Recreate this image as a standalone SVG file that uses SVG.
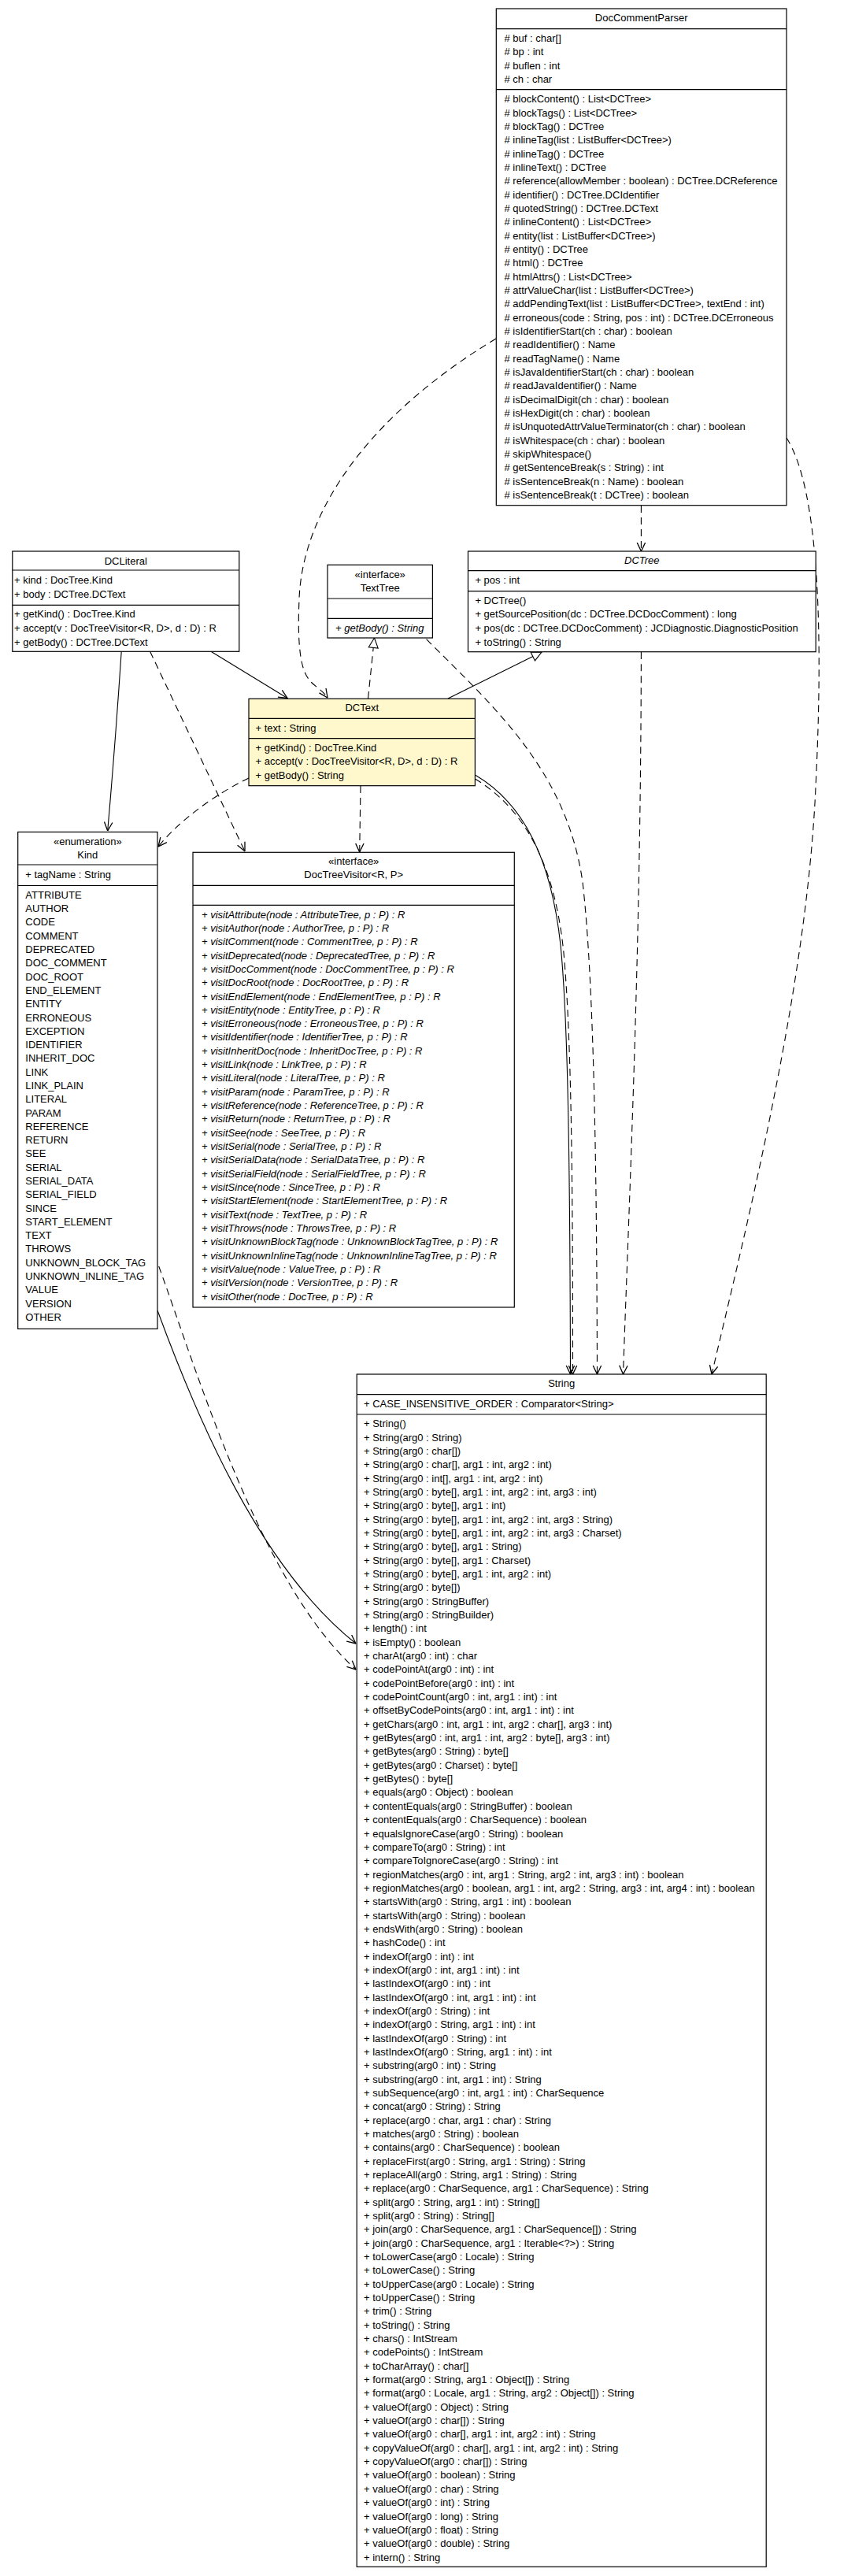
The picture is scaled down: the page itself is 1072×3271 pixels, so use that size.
<svg xmlns="http://www.w3.org/2000/svg" width="1072" height="3271" viewBox="0 0 1072 3271">
<style>
.box{fill:#fff;stroke:#000;stroke-width:1.2}
.hl{fill:#fff8cc}
.sep{stroke:#000;stroke-width:1.2}
.t{font-family:"Liberation Sans",Arial,Helvetica,sans-serif;font-size:13px;fill:#000}
.c{text-anchor:middle}
.it{font-style:italic}
.ln{fill:none;stroke:#000;stroke-width:1.1}
.d{stroke-dasharray:9,6}
</style>
<defs>
<marker id="open" viewBox="0 0 12 12" refX="11.5" refY="6" markerWidth="12" markerHeight="12" orient="auto" markerUnits="userSpaceOnUse"><path d="M0.5,0.8 L11.5,6 L0.5,11.2" fill="none" stroke="#000" stroke-width="1.3"/></marker>
<marker id="tri" viewBox="0 0 14 14" refX="13.5" refY="7" markerWidth="14" markerHeight="14" orient="auto" markerUnits="userSpaceOnUse"><path d="M1,1 L13.5,7 L1,13 Z" fill="#fff" stroke="#000" stroke-width="1.1"/></marker>
</defs>
<rect width="1072" height="3271" fill="#fff"/>

<g id="connectors">
<path class="ln d" d="M630 430 C480 520 385 640 380 760 S398 860 416 886" marker-end="url(#open)"/>
<path class="ln d" d="M814.4 642 L814.4 700" marker-end="url(#open)"/>
<path class="ln d" d="M999 556 C1040 620 1046 800 1036 1000 C1025 1250 950 1550 904 1745" marker-end="url(#open)"/>
<path class="ln d" d="M814.4 828 C814 1200 800 1500 791.5 1745" marker-end="url(#open)"/>
<path class="ln d" d="M541.6 811.7 C630 900 720 980 740 1120 C755 1250 758 1500 758.5 1745" marker-end="url(#open)"/>
<path class="ln" d="M603.4 984 C665 1020 700 1090 712 1200 C722 1300 724 1500 724.5 1745" marker-end="url(#open)"/>
<path class="ln d" d="M603.4 989 C668 1028 705 1100 716 1210 C726 1320 727.5 1500 727.5 1745" marker-end="url(#open)"/>
<path class="ln" d="M569 887 L688 828" marker-end="url(#tri)"/>
<path class="ln d" d="M467.5 887 L475.5 810" marker-end="url(#tri)"/>
<path class="ln" d="M268 827.3 L365 886.5" marker-end="url(#open)"/>
<path class="ln" d="M154.2 827.3 Q146 950 136.7 1055" marker-end="url(#open)"/>
<path class="ln d" d="M190.6 827.3 L311 1081" marker-end="url(#open)"/>
<path class="ln d" d="M316 988 C270 1010 225 1045 201 1075" marker-end="url(#open)"/>
<path class="ln d" d="M458 998 L456.7 1082" marker-end="url(#open)"/>
<path class="ln" d="M200 1664 C250 1800 330 1990 452 2087" marker-end="url(#open)"/>
<path class="ln d" d="M201.7 1608 C250 1740 330 2010 452 2120" marker-end="url(#open)"/>
</g>

<g id="DocCommentParser">
<rect class="box" x="630.3" y="11" width="368.7" height="630.7"/>
<line class="sep" x1="630.3" y1="36.7" x2="999" y2="36.7"/>
<line class="sep" x1="630.3" y1="113.7" x2="999" y2="113.7"/>
<text class="t c" x="814.7" y="27">DocCommentParser</text>
<text class="t" x="640.5" y="53.3"><tspan x="640.5" dy="0"># buf : char[]</tspan><tspan x="640.5" dy="17.1"># bp : int</tspan><tspan x="640.5" dy="17.1"># buflen : int</tspan><tspan x="640.5" dy="17.1"># ch : char</tspan></text>
<text class="t" x="640.5" y="130.3"><tspan x="640.5" dy="0"># blockContent() : List&lt;DCTree&gt;</tspan><tspan x="640.5" dy="17.33"># blockTags() : List&lt;DCTree&gt;</tspan><tspan x="640.5" dy="17.33"># blockTag() : DCTree</tspan><tspan x="640.5" dy="17.33"># inlineTag(list : ListBuffer&lt;DCTree&gt;)</tspan><tspan x="640.5" dy="17.33"># inlineTag() : DCTree</tspan><tspan x="640.5" dy="17.33"># inlineText() : DCTree</tspan><tspan x="640.5" dy="17.33"># reference(allowMember : boolean) : DCTree.DCReference</tspan><tspan x="640.5" dy="17.33"># identifier() : DCTree.DCIdentifier</tspan><tspan x="640.5" dy="17.33"># quotedString() : DCTree.DCText</tspan><tspan x="640.5" dy="17.33"># inlineContent() : List&lt;DCTree&gt;</tspan><tspan x="640.5" dy="17.33"># entity(list : ListBuffer&lt;DCTree&gt;)</tspan><tspan x="640.5" dy="17.33"># entity() : DCTree</tspan><tspan x="640.5" dy="17.33"># html() : DCTree</tspan><tspan x="640.5" dy="17.33"># htmlAttrs() : List&lt;DCTree&gt;</tspan><tspan x="640.5" dy="17.33"># attrValueChar(list : ListBuffer&lt;DCTree&gt;)</tspan><tspan x="640.5" dy="17.33"># addPendingText(list : ListBuffer&lt;DCTree&gt;, textEnd : int)</tspan><tspan x="640.5" dy="17.33"># erroneous(code : String, pos : int) : DCTree.DCErroneous</tspan><tspan x="640.5" dy="17.33"># isIdentifierStart(ch : char) : boolean</tspan><tspan x="640.5" dy="17.33"># readIdentifier() : Name</tspan><tspan x="640.5" dy="17.33"># readTagName() : Name</tspan><tspan x="640.5" dy="17.33"># isJavaIdentifierStart(ch : char) : boolean</tspan><tspan x="640.5" dy="17.33"># readJavaIdentifier() : Name</tspan><tspan x="640.5" dy="17.33"># isDecimalDigit(ch : char) : boolean</tspan><tspan x="640.5" dy="17.33"># isHexDigit(ch : char) : boolean</tspan><tspan x="640.5" dy="17.33"># isUnquotedAttrValueTerminator(ch : char) : boolean</tspan><tspan x="640.5" dy="17.33"># isWhitespace(ch : char) : boolean</tspan><tspan x="640.5" dy="17.33"># skipWhitespace()</tspan><tspan x="640.5" dy="17.33"># getSentenceBreak(s : String) : int</tspan><tspan x="640.5" dy="17.33"># isSentenceBreak(n : Name) : boolean</tspan><tspan x="640.5" dy="17.33"># isSentenceBreak(t : DCTree) : boolean</tspan></text>
</g>

<g id="DCLiteral">
<rect class="box" x="15.8" y="700" width="288" height="127.3"/>
<line class="sep" x1="15.8" y1="724" x2="303.8" y2="724"/>
<line class="sep" x1="15.8" y1="768.3" x2="303.8" y2="768.3"/>
<text class="t c" x="159.8" y="717">DCLiteral</text>
<text class="t" x="18" y="741.3"><tspan x="18" dy="0">+ kind : DocTree.Kind</tspan><tspan x="18" dy="18">+ body : DCTree.DCText</tspan></text>
<text class="t" x="18" y="784"><tspan x="18" dy="0">+ getKind() : DocTree.Kind</tspan><tspan x="18" dy="17.8">+ accept(v : DocTreeVisitor&lt;R, D&gt;, d : D) : R</tspan><tspan x="18" dy="17.8">+ getBody() : DCTree.DCText</tspan></text>
</g>

<g id="TextTree">
<rect class="box" x="416" y="717.3" width="133.4" height="92.7"/>
<line class="sep" x1="416" y1="760" x2="549.4" y2="760"/>
<line class="sep" x1="416" y1="785.3" x2="549.4" y2="785.3"/>
<text class="t c" x="482.7" y="733.6">«interface»</text>
<text class="t c" x="482.7" y="750.9">TextTree</text>
<text class="t it" x="426" y="801.9">+ getBody() : String</text>
</g>

<g id="DCTree">
<rect class="box" x="594.5" y="700" width="441.7" height="127.7"/>
<line class="sep" x1="594.5" y1="724.7" x2="1036.2" y2="724.7"/>
<line class="sep" x1="594.5" y1="750.7" x2="1036.2" y2="750.7"/>
<text class="t c it" x="815.3" y="716.3">DCTree</text>
<text class="t" x="603.4" y="741.3">+ pos : int</text>
<text class="t" x="603.4" y="766.9"><tspan x="603.4" dy="0">+ DCTree()</tspan><tspan x="603.4" dy="17.4">+ getSourcePosition(dc : DCTree.DCDocComment) : long</tspan><tspan x="603.4" dy="17.2">+ pos(dc : DCTree.DCDocComment) : JCDiagnostic.DiagnosticPosition</tspan><tspan x="603.4" dy="18">+ toString() : String</tspan></text>
</g>

<g id="DCText">
<rect class="box hl" x="316" y="887.3" width="287.4" height="110.4"/>
<line class="sep" x1="316" y1="912.3" x2="603.4" y2="912.3"/>
<line class="sep" x1="316" y1="937.7" x2="603.4" y2="937.7"/>
<text class="t c" x="459.7" y="902.9">DCText</text>
<text class="t" x="324.5" y="929.3">+ text : String</text>
<text class="t" x="324.5" y="953.6"><tspan x="324.5" dy="0">+ getKind() : DocTree.Kind</tspan><tspan x="324.5" dy="17.7">+ accept(v : DocTreeVisitor&lt;R, D&gt;, d : D) : R</tspan><tspan x="324.5" dy="18">+ getBody() : String</tspan></text>
</g>

<g id="Kind">
<rect class="box" x="22.7" y="1056.5" width="177.3" height="630.9"/>
<line class="sep" x1="22.7" y1="1098" x2="200" y2="1098"/>
<line class="sep" x1="22.7" y1="1124.5" x2="200" y2="1124.5"/>
<text class="t c" x="111.3" y="1073">«enumeration»</text>
<text class="t c" x="111.3" y="1089.8">Kind</text>
<text class="t" x="32.3" y="1114.9">+ tagName : String</text>
<text class="t" x="32.3" y="1140.9"><tspan x="32.3" dy="0">ATTRIBUTE</tspan><tspan x="32.3" dy="17.29">AUTHOR</tspan><tspan x="32.3" dy="17.29">CODE</tspan><tspan x="32.3" dy="17.29">COMMENT</tspan><tspan x="32.3" dy="17.29">DEPRECATED</tspan><tspan x="32.3" dy="17.29">DOC_COMMENT</tspan><tspan x="32.3" dy="17.29">DOC_ROOT</tspan><tspan x="32.3" dy="17.29">END_ELEMENT</tspan><tspan x="32.3" dy="17.29">ENTITY</tspan><tspan x="32.3" dy="17.29">ERRONEOUS</tspan><tspan x="32.3" dy="17.29">EXCEPTION</tspan><tspan x="32.3" dy="17.29">IDENTIFIER</tspan><tspan x="32.3" dy="17.29">INHERIT_DOC</tspan><tspan x="32.3" dy="17.29">LINK</tspan><tspan x="32.3" dy="17.29">LINK_PLAIN</tspan><tspan x="32.3" dy="17.29">LITERAL</tspan><tspan x="32.3" dy="17.29">PARAM</tspan><tspan x="32.3" dy="17.29">REFERENCE</tspan><tspan x="32.3" dy="17.29">RETURN</tspan><tspan x="32.3" dy="17.29">SEE</tspan><tspan x="32.3" dy="17.29">SERIAL</tspan><tspan x="32.3" dy="17.29">SERIAL_DATA</tspan><tspan x="32.3" dy="17.29">SERIAL_FIELD</tspan><tspan x="32.3" dy="17.29">SINCE</tspan><tspan x="32.3" dy="17.29">START_ELEMENT</tspan><tspan x="32.3" dy="17.29">TEXT</tspan><tspan x="32.3" dy="17.29">THROWS</tspan><tspan x="32.3" dy="17.29">UNKNOWN_BLOCK_TAG</tspan><tspan x="32.3" dy="17.29">UNKNOWN_INLINE_TAG</tspan><tspan x="32.3" dy="17.29">VALUE</tspan><tspan x="32.3" dy="17.29">VERSION</tspan><tspan x="32.3" dy="17.29">OTHER</tspan></text>
</g>

<g id="DocTreeVisitor">
<rect class="box" x="245" y="1082.3" width="408.3" height="577.7"/>
<line class="sep" x1="245" y1="1124.3" x2="653.3" y2="1124.3"/>
<line class="sep" x1="245" y1="1149.3" x2="653.3" y2="1149.3"/>
<text class="t c" x="449.2" y="1098.2">«interface»</text>
<text class="t c" x="449.2" y="1115.4">DocTreeVisitor&lt;R, P&gt;</text>
<text class="t it" x="256" y="1165.6"><tspan x="256" dy="0">+ visitAttribute(node : AttributeTree, p : P) : R</tspan><tspan x="256" dy="17.32">+ visitAuthor(node : AuthorTree, p : P) : R</tspan><tspan x="256" dy="17.32">+ visitComment(node : CommentTree, p : P) : R</tspan><tspan x="256" dy="17.32">+ visitDeprecated(node : DeprecatedTree, p : P) : R</tspan><tspan x="256" dy="17.32">+ visitDocComment(node : DocCommentTree, p : P) : R</tspan><tspan x="256" dy="17.32">+ visitDocRoot(node : DocRootTree, p : P) : R</tspan><tspan x="256" dy="17.32">+ visitEndElement(node : EndElementTree, p : P) : R</tspan><tspan x="256" dy="17.32">+ visitEntity(node : EntityTree, p : P) : R</tspan><tspan x="256" dy="17.32">+ visitErroneous(node : ErroneousTree, p : P) : R</tspan><tspan x="256" dy="17.32">+ visitIdentifier(node : IdentifierTree, p : P) : R</tspan><tspan x="256" dy="17.32">+ visitInheritDoc(node : InheritDocTree, p : P) : R</tspan><tspan x="256" dy="17.32">+ visitLink(node : LinkTree, p : P) : R</tspan><tspan x="256" dy="17.32">+ visitLiteral(node : LiteralTree, p : P) : R</tspan><tspan x="256" dy="17.32">+ visitParam(node : ParamTree, p : P) : R</tspan><tspan x="256" dy="17.32">+ visitReference(node : ReferenceTree, p : P) : R</tspan><tspan x="256" dy="17.32">+ visitReturn(node : ReturnTree, p : P) : R</tspan><tspan x="256" dy="17.32">+ visitSee(node : SeeTree, p : P) : R</tspan><tspan x="256" dy="17.32">+ visitSerial(node : SerialTree, p : P) : R</tspan><tspan x="256" dy="17.32">+ visitSerialData(node : SerialDataTree, p : P) : R</tspan><tspan x="256" dy="17.32">+ visitSerialField(node : SerialFieldTree, p : P) : R</tspan><tspan x="256" dy="17.32">+ visitSince(node : SinceTree, p : P) : R</tspan><tspan x="256" dy="17.32">+ visitStartElement(node : StartElementTree, p : P) : R</tspan><tspan x="256" dy="17.32">+ visitText(node : TextTree, p : P) : R</tspan><tspan x="256" dy="17.32">+ visitThrows(node : ThrowsTree, p : P) : R</tspan><tspan x="256" dy="17.32">+ visitUnknownBlockTag(node : UnknownBlockTagTree, p : P) : R</tspan><tspan x="256" dy="17.32">+ visitUnknownInlineTag(node : UnknownInlineTagTree, p : P) : R</tspan><tspan x="256" dy="17.32">+ visitValue(node : ValueTree, p : P) : R</tspan><tspan x="256" dy="17.32">+ visitVersion(node : VersionTree, p : P) : R</tspan><tspan x="256" dy="17.32">+ visitOther(node : DocTree, p : P) : R</tspan></text>
</g>

<g id="String">
<rect class="box" x="453.2" y="1745" width="520" height="1514.3"/>
<line class="sep" x1="453.2" y1="1770.7" x2="973.2" y2="1770.7"/>
<line class="sep" x1="453.2" y1="1796" x2="973.2" y2="1796"/>
<text class="t c" x="713.2" y="1761.3">String</text>
<text class="t" x="462" y="1787.3">+ CASE_INSENSITIVE_ORDER : Comparator&lt;String&gt;</text>
<text class="t" x="462" y="1812.3"><tspan x="462" dy="0">+ String()</tspan><tspan x="462" dy="17.34">+ String(arg0 : String)</tspan><tspan x="462" dy="17.34">+ String(arg0 : char[])</tspan><tspan x="462" dy="17.34">+ String(arg0 : char[], arg1 : int, arg2 : int)</tspan><tspan x="462" dy="17.34">+ String(arg0 : int[], arg1 : int, arg2 : int)</tspan><tspan x="462" dy="17.34">+ String(arg0 : byte[], arg1 : int, arg2 : int, arg3 : int)</tspan><tspan x="462" dy="17.34">+ String(arg0 : byte[], arg1 : int)</tspan><tspan x="462" dy="17.34">+ String(arg0 : byte[], arg1 : int, arg2 : int, arg3 : String)</tspan><tspan x="462" dy="17.34">+ String(arg0 : byte[], arg1 : int, arg2 : int, arg3 : Charset)</tspan><tspan x="462" dy="17.34">+ String(arg0 : byte[], arg1 : String)</tspan><tspan x="462" dy="17.34">+ String(arg0 : byte[], arg1 : Charset)</tspan><tspan x="462" dy="17.34">+ String(arg0 : byte[], arg1 : int, arg2 : int)</tspan><tspan x="462" dy="17.34">+ String(arg0 : byte[])</tspan><tspan x="462" dy="17.34">+ String(arg0 : StringBuffer)</tspan><tspan x="462" dy="17.34">+ String(arg0 : StringBuilder)</tspan><tspan x="462" dy="17.34">+ length() : int</tspan><tspan x="462" dy="17.34">+ isEmpty() : boolean</tspan><tspan x="462" dy="17.34">+ charAt(arg0 : int) : char</tspan><tspan x="462" dy="17.34">+ codePointAt(arg0 : int) : int</tspan><tspan x="462" dy="17.34">+ codePointBefore(arg0 : int) : int</tspan><tspan x="462" dy="17.34">+ codePointCount(arg0 : int, arg1 : int) : int</tspan><tspan x="462" dy="17.34">+ offsetByCodePoints(arg0 : int, arg1 : int) : int</tspan><tspan x="462" dy="17.34">+ getChars(arg0 : int, arg1 : int, arg2 : char[], arg3 : int)</tspan><tspan x="462" dy="17.34">+ getBytes(arg0 : int, arg1 : int, arg2 : byte[], arg3 : int)</tspan><tspan x="462" dy="17.34">+ getBytes(arg0 : String) : byte[]</tspan><tspan x="462" dy="17.34">+ getBytes(arg0 : Charset) : byte[]</tspan><tspan x="462" dy="17.34">+ getBytes() : byte[]</tspan><tspan x="462" dy="17.34">+ equals(arg0 : Object) : boolean</tspan><tspan x="462" dy="17.34">+ contentEquals(arg0 : StringBuffer) : boolean</tspan><tspan x="462" dy="17.34">+ contentEquals(arg0 : CharSequence) : boolean</tspan><tspan x="462" dy="17.34">+ equalsIgnoreCase(arg0 : String) : boolean</tspan><tspan x="462" dy="17.34">+ compareTo(arg0 : String) : int</tspan><tspan x="462" dy="17.34">+ compareToIgnoreCase(arg0 : String) : int</tspan><tspan x="462" dy="17.34">+ regionMatches(arg0 : int, arg1 : String, arg2 : int, arg3 : int) : boolean</tspan><tspan x="462" dy="17.34">+ regionMatches(arg0 : boolean, arg1 : int, arg2 : String, arg3 : int, arg4 : int) : boolean</tspan><tspan x="462" dy="17.34">+ startsWith(arg0 : String, arg1 : int) : boolean</tspan><tspan x="462" dy="17.34">+ startsWith(arg0 : String) : boolean</tspan><tspan x="462" dy="17.34">+ endsWith(arg0 : String) : boolean</tspan><tspan x="462" dy="17.34">+ hashCode() : int</tspan><tspan x="462" dy="17.34">+ indexOf(arg0 : int) : int</tspan><tspan x="462" dy="17.34">+ indexOf(arg0 : int, arg1 : int) : int</tspan><tspan x="462" dy="17.34">+ lastIndexOf(arg0 : int) : int</tspan><tspan x="462" dy="17.34">+ lastIndexOf(arg0 : int, arg1 : int) : int</tspan><tspan x="462" dy="17.34">+ indexOf(arg0 : String) : int</tspan><tspan x="462" dy="17.34">+ indexOf(arg0 : String, arg1 : int) : int</tspan><tspan x="462" dy="17.34">+ lastIndexOf(arg0 : String) : int</tspan><tspan x="462" dy="17.34">+ lastIndexOf(arg0 : String, arg1 : int) : int</tspan><tspan x="462" dy="17.34">+ substring(arg0 : int) : String</tspan><tspan x="462" dy="17.34">+ substring(arg0 : int, arg1 : int) : String</tspan><tspan x="462" dy="17.34">+ subSequence(arg0 : int, arg1 : int) : CharSequence</tspan><tspan x="462" dy="17.34">+ concat(arg0 : String) : String</tspan><tspan x="462" dy="17.34">+ replace(arg0 : char, arg1 : char) : String</tspan><tspan x="462" dy="17.34">+ matches(arg0 : String) : boolean</tspan><tspan x="462" dy="17.34">+ contains(arg0 : CharSequence) : boolean</tspan><tspan x="462" dy="17.34">+ replaceFirst(arg0 : String, arg1 : String) : String</tspan><tspan x="462" dy="17.34">+ replaceAll(arg0 : String, arg1 : String) : String</tspan><tspan x="462" dy="17.34">+ replace(arg0 : CharSequence, arg1 : CharSequence) : String</tspan><tspan x="462" dy="17.34">+ split(arg0 : String, arg1 : int) : String[]</tspan><tspan x="462" dy="17.34">+ split(arg0 : String) : String[]</tspan><tspan x="462" dy="17.34">+ join(arg0 : CharSequence, arg1 : CharSequence[]) : String</tspan><tspan x="462" dy="17.34">+ join(arg0 : CharSequence, arg1 : Iterable&lt;?&gt;) : String</tspan><tspan x="462" dy="17.34">+ toLowerCase(arg0 : Locale) : String</tspan><tspan x="462" dy="17.34">+ toLowerCase() : String</tspan><tspan x="462" dy="17.34">+ toUpperCase(arg0 : Locale) : String</tspan><tspan x="462" dy="17.34">+ toUpperCase() : String</tspan><tspan x="462" dy="17.34">+ trim() : String</tspan><tspan x="462" dy="17.34">+ toString() : String</tspan><tspan x="462" dy="17.34">+ chars() : IntStream</tspan><tspan x="462" dy="17.34">+ codePoints() : IntStream</tspan><tspan x="462" dy="17.34">+ toCharArray() : char[]</tspan><tspan x="462" dy="17.34">+ format(arg0 : String, arg1 : Object[]) : String</tspan><tspan x="462" dy="17.34">+ format(arg0 : Locale, arg1 : String, arg2 : Object[]) : String</tspan><tspan x="462" dy="17.34">+ valueOf(arg0 : Object) : String</tspan><tspan x="462" dy="17.34">+ valueOf(arg0 : char[]) : String</tspan><tspan x="462" dy="17.34">+ valueOf(arg0 : char[], arg1 : int, arg2 : int) : String</tspan><tspan x="462" dy="17.34">+ copyValueOf(arg0 : char[], arg1 : int, arg2 : int) : String</tspan><tspan x="462" dy="17.34">+ copyValueOf(arg0 : char[]) : String</tspan><tspan x="462" dy="17.34">+ valueOf(arg0 : boolean) : String</tspan><tspan x="462" dy="17.34">+ valueOf(arg0 : char) : String</tspan><tspan x="462" dy="17.34">+ valueOf(arg0 : int) : String</tspan><tspan x="462" dy="17.34">+ valueOf(arg0 : long) : String</tspan><tspan x="462" dy="17.34">+ valueOf(arg0 : float) : String</tspan><tspan x="462" dy="17.34">+ valueOf(arg0 : double) : String</tspan><tspan x="462" dy="17.34">+ intern() : String</tspan></text>
</g>
</svg>
